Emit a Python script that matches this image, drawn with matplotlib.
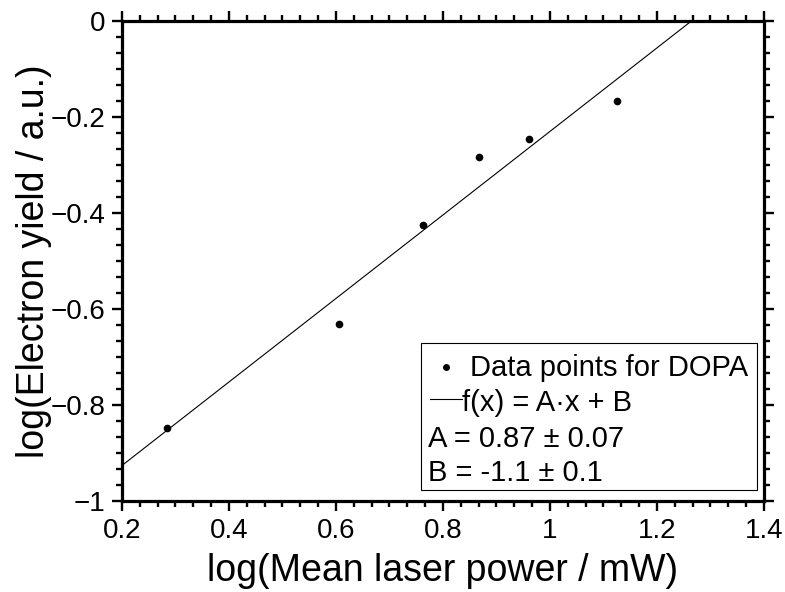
import matplotlib
matplotlib.use("Agg")
import matplotlib.pyplot as plt
import numpy as np
from matplotlib.ticker import MultipleLocator, AutoMinorLocator, FuncFormatter
from matplotlib.patches import Rectangle

plt.rcParams['font.family'] = ['Liberation Sans', 'DejaVu Sans']

# Measured data (log-log)
log_power = [0.285, 0.606, 0.762, 0.868, 0.961, 1.125]
log_yield = [-0.847, -0.631, -0.426, -0.284, -0.246, -0.167]

# Linear fit parameters f(x) = A*x + B
fit_A = 0.87
fit_B = -1.1

x_limits = (0.2, 1.4)
y_limits = (-1.0, 0.0)

fig = plt.figure(figsize=(7.85, 5.92), dpi=100)
ax = fig.add_axes([0.1554, 0.1537, 0.8178, 0.8108])

ax.plot(log_power, log_yield, 'o', color='black', markersize=4.5, zorder=3)
xf = np.array(x_limits)
ax.plot(xf, fit_A * xf + fit_B, '-', color='black', linewidth=0.8, zorder=2)

ax.set_xlim(*x_limits)
ax.set_ylim(*y_limits)

ax.xaxis.set_major_locator(MultipleLocator(0.2))
ax.yaxis.set_major_locator(MultipleLocator(0.2))
ax.xaxis.set_minor_locator(AutoMinorLocator(6))
ax.yaxis.set_minor_locator(AutoMinorLocator(6))

fmt = FuncFormatter(lambda v, p: f"{round(v, 6):g}".replace('-', '\u2212'))
ax.xaxis.set_major_formatter(fmt)
ax.yaxis.set_major_formatter(fmt)

for s in ax.spines.values():
    s.set_linewidth(2.3)

ax.tick_params(which='both', direction='out', top=True, right=True,
               width=1.7, labelsize=20)
ax.tick_params(which='major', length=7.0, pad=5)
ax.tick_params(which='minor', length=4.6)

ax.set_xlabel('log(Mean laser power / mW)', fontsize=27, labelpad=7)
ax.set_ylabel('log(Electron yield / a.u.)', fontsize=27, labelpad=-1)

# Legend box with fit results
tr = ax.transAxes
ax.add_patch(Rectangle((0.4657, 0.0229), 0.989 - 0.4657, 0.329 - 0.0229,
                       transform=tr, fill=False, edgecolor='black',
                       linewidth=0.8, zorder=4))
ax.plot([0.5047], [0.2798], 'o', color='black', markersize=4.0,
        transform=tr, zorder=5, clip_on=False)
ax.plot([0.4798, 0.5296], [0.2125, 0.2125], '-', color='black',
        linewidth=0.8, transform=tr, zorder=5)
lfs = 21
ax.text(0.542, 0.2604, 'Data points for DOPA', transform=tr,
        fontsize=lfs, va='baseline', ha='left', zorder=5)
ax.text(0.529, 0.188, 'f(x) = A\u00b7x + B', transform=tr,
        fontsize=lfs, va='baseline', ha='left', zorder=5)
ax.text(0.476, 0.113, 'A = 0.87 \u00b1 0.07', transform=tr,
        fontsize=lfs, va='baseline', ha='left', zorder=5)
ax.text(0.476, 0.0427, 'B = -1.1 \u00b1 0.1', transform=tr,
        fontsize=lfs, va='baseline', ha='left', zorder=5)

fig.savefig('out.png', dpi=100)
